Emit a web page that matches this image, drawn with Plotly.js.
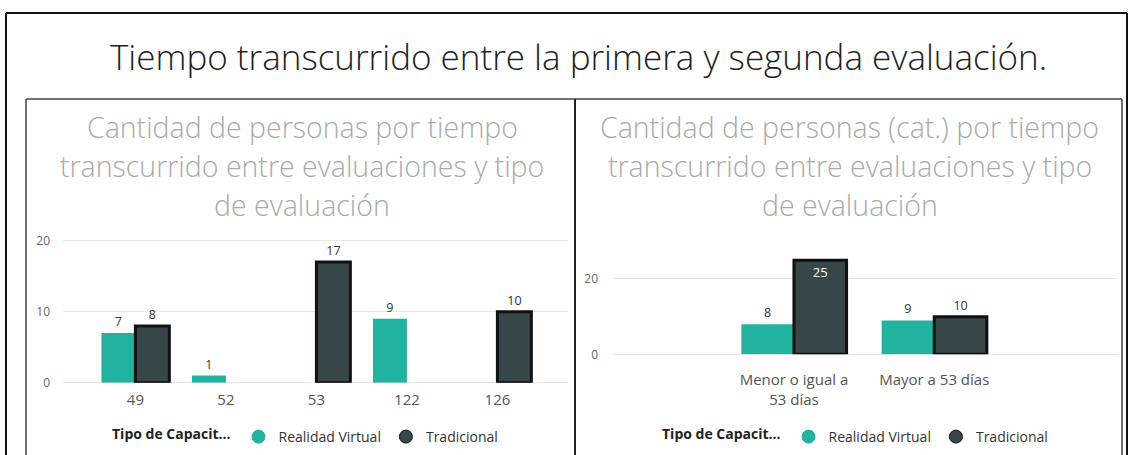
<!DOCTYPE html>
<html>
<head>
<meta charset="utf-8">
<script src="https://cdn.plot.ly/plotly-3.0.1.min.js"></script>
<style>
  html, body { margin: 0; padding: 0; background: #fff; }
  #chart { width: 1130px; height: 455px; }
</style>
</head>
<body>
<div id="chart"></div>
<script>
// left chart: days between evaluations
const dias = ['49', '52', '53', '122', '126']
const virtualPorDia = [7, 1, null, 9, null]
const tradicionalPorDia = [8, null, 17, null, 10]

// right chart: grouped in two categories
const grupos = ['Menor o igual a<br>53 días', 'Mayor a 53 días']
const virtualPorGrupo = [8, 9]
const tradicionalPorGrupo = [25, 10]

const seriesNames = ['Realidad Virtual', 'Tradicional']
const mainTitle = 'Tiempo transcurrido entre la primera y segunda evaluación.'
const leftTitle = ['Cantidad de personas por tiempo', 'transcurrido entre evaluaciones y tipo', 'de evaluación']
const rightTitle = ['Cantidad de personas (cat.) por tiempo', 'transcurrido entre evaluaciones y tipo', 'de evaluación']
const legendTitle = '<b>Tipo de Capacit...</b>'

const W = 1130
const H = 455
const px = (x) => x / W
const py = (y) => 1 - y / H

const teal = '#22b3a0'
const dark = '#374649'
const font = 'Open Sans, Noto Sans, sans-serif'
const labelFont = {family: font, size: 12.5, color: '#333'}

const txt = (arr) => arr.map((v) => (v === null ? '' : String(v)))

const traces = [
  {
    type: 'bar', x: dias, y: virtualPorDia, name: seriesNames[0],
    xaxis: 'x', yaxis: 'y', showlegend: false,
    marker: {color: teal},
    text: txt(virtualPorDia), textposition: 'outside', textfont: labelFont,
    cliponaxis: false
  },
  {
    type: 'bar', x: dias, y: tradicionalPorDia, name: seriesNames[1],
    xaxis: 'x', yaxis: 'y', showlegend: false,
    marker: {color: dark, line: {color: '#111', width: 3}},
    text: txt(tradicionalPorDia), textposition: 'outside', textfont: labelFont,
    cliponaxis: false
  },
  {
    type: 'bar', x: grupos, y: virtualPorGrupo, name: seriesNames[0],
    xaxis: 'x2', yaxis: 'y2', showlegend: false,
    marker: {color: teal},
    text: txt(virtualPorGrupo), textposition: 'outside', textfont: labelFont,
    cliponaxis: false
  },
  {
    type: 'bar', x: grupos, y: tradicionalPorGrupo, name: seriesNames[1],
    xaxis: 'x2', yaxis: 'y2', showlegend: false,
    marker: {color: dark, line: {color: '#111', width: 3}},
    text: txt(tradicionalPorGrupo),
    // the tall bar gets its label inside, like Power BI does
    textposition: tradicionalPorGrupo.map((v) => (v > 20 ? 'inside' : 'outside')),
    insidetextanchor: 'end',
    insidetextfont: {family: font, size: 13, color: '#fff'},
    outsidetextfont: labelFont,
    cliponaxis: false
  }
]

// circle legend entries (Power BI style)
const legendProxy = (name, color, legend, xa, ya) => ({
  type: 'scatter', mode: 'markers', x: [null], y: [null], name,
  xaxis: xa, yaxis: ya, legend,
  marker: {symbol: 'circle', size: 13, color, line: {color: color === dark ? '#111' : color, width: 1}},
  hoverinfo: 'skip'
})
traces.push(
  legendProxy(seriesNames[0], teal, 'legend', 'x', 'y'),
  legendProxy(seriesNames[1], dark, 'legend', 'x', 'y'),
  legendProxy(seriesNames[0], teal, 'legend2', 'x2', 'y2'),
  legendProxy(seriesNames[1], dark, 'legend2', 'x2', 'y2')
)

const yAxisBase = {
  showline: false, zeroline: true, zerolinecolor: '#e6e6e6', zerolinewidth: 1,
  gridcolor: '#e6e6e6', gridwidth: 1,
  tickfont: {family: font, size: 12, color: '#666'},
  ticks: '', fixedrange: true
}
const xAxisBase = {
  type: 'category', showline: false, showgrid: false, zeroline: false, ticks: '',
  tickfont: {family: font, size: 15, color: '#555'}, fixedrange: true
}

const annotations = [{
  text: mainTitle, xref: 'paper', yref: 'paper', x: px(578), y: py(56),
  xanchor: 'center', yanchor: 'middle', showarrow: false,
  font: {family: font, size: 35, color: '#222', weight: 300}
}]
leftTitle.forEach((line, i) => annotations.push({
  text: line, xref: 'paper', yref: 'paper', x: px(302), y: py(127 + i * 39),
  xanchor: 'center', yanchor: 'middle', showarrow: false,
  font: {family: font, size: 28.5, color: '#aaa', weight: 300}
}))
rightTitle.forEach((line, i) => annotations.push({
  text: line, xref: 'paper', yref: 'paper', x: px(850), y: py(127 + i * 39),
  xanchor: 'center', yanchor: 'middle', showarrow: false,
  font: {family: font, size: 28.5, color: '#aaa', weight: 300}
}))

const line = (x0, y0, x1, y1, color, width) => ({
  type: 'line', xref: 'paper', yref: 'paper',
  x0: px(x0), y0: py(y0), x1: px(x1), y1: py(y1),
  line: {color, width}
})
const shapes = [
  // outer frame
  line(6, 13, 1127, 13, '#111', 2),
  line(6, 13, 6, 470, '#111', 2),
  line(1127, 13, 1127, 470, '#111', 2),
  // inner panels
  line(26, 99, 1122, 99, '#444', 1.5),
  line(26, 99, 26, 470, '#444', 1.5),
  line(1122, 99, 1122, 470, '#444', 1.5),
  line(575, 99, 575, 470, '#222', 2)
]

const legendBase = {
  orientation: 'h', xref: 'paper', yref: 'paper', yanchor: 'middle', xanchor: 'left',
  y: py(437), bgcolor: 'rgba(0,0,0,0)', itemwidth: 30, itemclick: false, itemdoubleclick: false,
  valign: 'middle',
  font: {family: font, size: 14, color: '#333'},
  title: {text: legendTitle, side: 'left', font: {family: font, size: 14, color: '#222'}},
  tracegroupgap: 0
}

const layout = {
  width: W, height: H,
  margin: {l: 0, r: 0, t: 0, b: 0, pad: 0},
  paper_bgcolor: '#fff', plot_bgcolor: '#fff',
  barmode: 'group', bargap: 0.25, bargroupgap: 0,
  font: {family: font},
  xaxis: {...xAxisBase, domain: [px(63), px(568)], range: [-0.8, 4.78], anchor: 'y', ticklabelstandoff: 6},
  yaxis: {...yAxisBase, domain: [py(382.7), py(226.5)], range: [0, 22], dtick: 10, anchor: 'x', ticklabelstandoff: 12},
  xaxis2: {...xAxisBase, domain: [px(613), px(1118)], range: [-1.29, 2.31], anchor: 'y2', ticklabelstandoff: 15},
  yaxis2: {...yAxisBase, domain: [py(354.3), py(252.6)], range: [0, 27], dtick: 20, anchor: 'x2', ticklabelstandoff: 14},
  legend: {...legendBase, x: px(110)},
  legend2: {...legendBase, x: px(660)},
  annotations,
  shapes,
  hovermode: 'closest'
}

Plotly.newPlot('chart', traces, layout, {displayModeBar: false})
</script>
</body>
</html>
